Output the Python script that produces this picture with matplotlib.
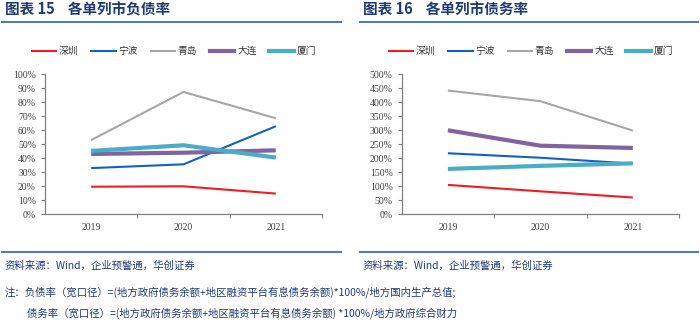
import matplotlib.pyplot as plt
from matplotlib.lines import Line2D

plt.rcParams['font.family'] = ['Noto Sans CJK SC', 'DejaVu Sans']

years = ['2019', '2020', '2021']
cities = ['深圳', '宁波', '青岛', '大连', '厦门']
colors = ['#ee1c25', '#1560c4', '#a6a6a6', '#8064a2', '#4bacc6']
widths = [1.5, 1.5, 1.5, 3.0, 3.0]

# 负债率 (%)
debt_ratio = {
    '深圳': [19.7, 20.0, 14.8],
    '宁波': [33.0, 35.7, 62.9],
    '青岛': [53.0, 87.4, 68.6],
    '大连': [43.1, 44.0, 45.7],
    '厦门': [45.3, 49.3, 40.5],
}
# 债务率 (%)
debt_burden = {
    '深圳': [105, 82, 60],
    '宁波': [218, 202, 181],
    '青岛': [442, 404, 299],
    '大连': [300, 245, 237],
    '厦门': [162, 173, 182],
}

title_color = '#1f3b73'
rule_color = '#5a7aa8'
tick_color = '#404040'

fig = plt.figure(figsize=(7, 3.24), dpi=100)


def draw(rect, data, ymax, step, title, legend_x, rule_x):
    ax = fig.add_axes(rect)
    for c, col, lw in zip(cities, colors, widths):
        ax.plot(range(3), data[c], color=col, lw=lw, label=c, solid_capstyle='butt')
    ax.set_xlim(-0.5, 2.5)
    ax.set_ylim(0, ymax)
    ax.set_yticks(range(0, ymax + 1, step))
    ax.set_yticklabels([f'{v}%' for v in range(0, ymax + 1, step)],
                       family='Liberation Serif', fontsize=7, color=tick_color)
    ax.set_xticks([0.5, 1.5, 2.5])
    ax.set_xticklabels([])
    ax.set_xticks([0, 1, 2], minor=True)
    ax.set_xticklabels(years, minor=True, family='Liberation Serif', fontsize=7, color=tick_color)
    ax.tick_params(axis='x', which='minor', length=0, pad=6)
    ax.tick_params(axis='both', which='major', length=3, width=0.8, color='#808080')
    for s in ['top', 'right']:
        ax.spines[s].set_visible(False)
    for s in ['left', 'bottom']:
        ax.spines[s].set_color('#808080')
        ax.spines[s].set_linewidth(0.9)
    fig.legend(handles=[Line2D([], [], color=col, lw=lw) for col, lw in zip(colors, widths)],
               labels=cities, loc='center', bbox_to_anchor=(legend_x, 1 - 51 / 324),
               ncol=5, frameon=False, fontsize=7, handlelength=2.5,
               handletextpad=0.3, columnspacing=1.3, labelcolor='#333333')
    fig.text(rule_x[0] / 700 + 0.004, 1 - 10 / 324, title, fontsize=10.5, fontweight='bold',
             color=title_color, va='center')
    fig.add_artist(Line2D([rule_x[0] / 700, rule_x[1] / 700], [1 - 22 / 324] * 2,
                          color=rule_color, lw=1.5))
    fig.add_artist(Line2D([rule_x[0] / 700, rule_x[1] / 700], [1 - 252 / 324] * 2,
                          color=rule_color, lw=1.5))
    fig.text(rule_x[0] / 700 + 0.004, 1 - 266 / 324, '资料来源：Wind，企业预警通，华创证券',
             fontsize=7.5, style='italic', color=title_color, va='center')
    return ax


draw([45 / 700, 1 - 214.3 / 324, 277 / 700, 140 / 324], debt_ratio, 100, 10,
     '图表 15    各单列市负债率', 174 / 700, (2, 341))
draw([401.7 / 700, 1 - 214.3 / 324, 277.3 / 700, 140 / 324], debt_burden, 500, 50,
     '图表 16    各单列市债务率', 531 / 700, (360, 698))

fig.text(5 / 700, 1 - 292 / 324,
         '注：负债率（宽口径）=(地方政府债务余额+地区融资平台有息债务余额)*100%/地方国内生产总值;',
         fontsize=7.5, style='italic', color=title_color, va='center')
fig.text(27 / 700, 1 - 313 / 324,
         '债务率（宽口径）=(地方政府债务余额+地区融资平台有息债务余额) *100%/地方政府综合财力',
         fontsize=7.5, style='italic', color=title_color, va='center')

fig.savefig('out.png', dpi=100)
